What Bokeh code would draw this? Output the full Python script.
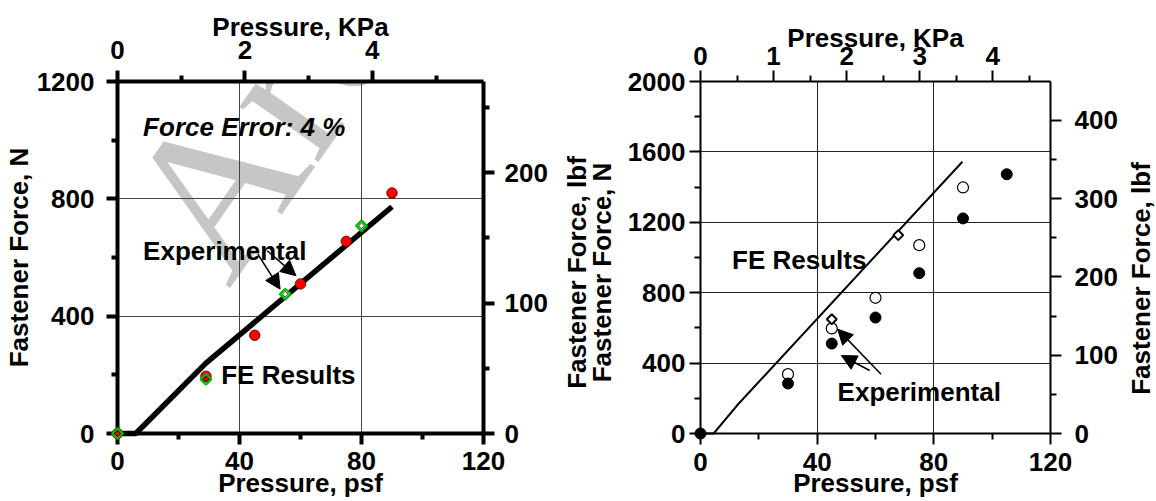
import math
from bokeh.plotting import figure
from bokeh.layouts import row, column
from bokeh.models import Range1d, LinearAxis, FixedTicker, Grid, Label, Arrow, NormalHead
from bokeh.embed import file_html
from bokeh.resources import INLINE

FONT = "Liberation Sans"
FS = "26px"

# ---------------- data: left chart (Force Error 4 %) ----------------
L_line_psf = [0, 6, 29, 90]
L_line_N = [0, 0, 240, 773]
L_fe_psf = [0, 29, 55, 80]
L_fe_N = [0, 185, 475, 708]
L_exp_psf = [0, 29, 45, 60, 75, 90]
L_exp_N = [0, 195, 335, 510, 655, 820]

# ---------------- data: right chart ----------------
R_line_psf = [0, 4.5, 12.5, 89.8]
R_line_N = [0, 0, 159, 1544]
R_fe_psf = [45, 67.8]
R_fe_N = [649, 1127]
R_expA_psf = [0, 30, 45, 60, 75, 90, 105]          # filled circles
R_expA_N = [0, 284, 511, 659, 911, 1222, 1473]
R_expB_psf = [30, 45, 60, 75, 90]                  # open circles
R_expB_N = [337, 597, 771, 1070, 1398]

# ---------------- ticks ----------------
psf_ticks = [0, 40, 80, 120]
psf_minor = [20, 60, 100]
L_kpa_ticks = [0, 2, 4]
L_kpa_minor = [1, 3, 5]
R_kpa_ticks = [0, 1, 2, 3, 4]
R_kpa_minor = [0.5, 1.5, 2.5, 3.5, 4.5]
L_N_ticks = [0, 400, 800, 1200]
L_N_minor = [200, 600, 1000]
R_N_ticks = [0, 400, 800, 1200, 1600, 2000]
R_N_minor = [200, 600, 1000, 1400, 1800]
L_lbf_ticks = [0, 100, 200]
L_lbf_minor = [50, 150, 250]
R_lbf_ticks = [0, 100, 200, 300, 400]
R_lbf_minor = [50, 150, 250, 350]
L_grid_x = [40, 80]
L_grid_y = [400, 800]
R_grid_x = [40, 80]
R_grid_y = [400, 800, 1200, 1600]

PSF_MAX = 120
L_N_MAX = 1200
R_N_MAX = 2000
N_PER_LBF = 4.448
KPA_PER_PSF = 0.04788
R_KPA_MAX = 4.79   # top scale of the right chart as drawn

H = 501
TOP = 81          # frame top (both charts)
FRAME_H = 352


def base_fig(width, bl, br, bt, bb, ymax, kpa_max):
    p = figure(width=width, height=H,
               x_range=Range1d(0, PSF_MAX), y_range=Range1d(0, ymax),
               x_axis_type=None, y_axis_type=None,
               output_backend="svg", toolbar_location=None,
               min_border_left=bl, min_border_right=br,
               min_border_top=bt, min_border_bottom=bb)
    p.outline_line_color = None
    p.background_fill_color = "white"
    p.border_fill_color = "white"
    p.extra_x_ranges = {"kpa": Range1d(0, kpa_max)}
    p.extra_y_ranges = {"lbf": Range1d(0, ymax / N_PER_LBF)}
    return p


def style_title(ax, title, standoff):
    ax.axis_label = title
    ax.axis_label_text_font = FONT
    ax.axis_label_text_font_style = "bold"
    ax.axis_label_text_font_size = FS
    ax.axis_label_text_color = "black"
    ax.axis_label_standoff = standoff


def add_axis(p, side, ticks, minor, lw, standoff, title=None, title_standoff=0, range_name=None):
    kw = {}
    if range_name:
        kw["x_range_name" if side in ("above", "below") else "y_range_name"] = range_name
    ax = LinearAxis(ticker=FixedTicker(ticks=ticks, minor_ticks=minor), **kw)
    ax.axis_line_width = lw
    ax.axis_line_color = "black"
    ax.major_tick_line_width = lw
    ax.minor_tick_line_width = lw
    ax.major_tick_line_color = "black"
    ax.minor_tick_line_color = "black"
    ax.major_tick_in = 0
    ax.major_tick_out = 11
    ax.minor_tick_in = 0
    ax.minor_tick_out = 6
    ax.major_label_text_font = FONT
    ax.major_label_text_font_style = "bold"
    ax.major_label_text_font_size = FS
    ax.major_label_text_color = "black"
    ax.major_label_standoff = standoff
    if title:
        style_title(ax, title, title_standoff)
    p.add_layout(ax, side)
    return ax


def title_only_fig(width, bl, bb, titles):
    """A narrow figure that only carries vertical axis titles (read bottom-to-top)."""
    p = figure(width=width, height=H, x_range=Range1d(0, 1), y_range=Range1d(0, 1),
               x_axis_type=None, y_axis_type=None,
               output_backend="svg", toolbar_location=None,
               min_border_left=bl, min_border_right=0,
               min_border_top=TOP, min_border_bottom=bb)
    p.outline_line_color = None
    p.background_fill_color = "white"
    p.border_fill_color = "white"
    for t, so in titles:
        ax = LinearAxis(ticker=FixedTicker(ticks=[], minor_ticks=[]))
        ax.axis_line_color = None
        ax.major_tick_out = 0
        ax.minor_tick_out = 0
        ax.major_tick_in = 0
        ax.minor_tick_in = 0
        ax.major_label_standoff = 0
        style_title(ax, t, so)
        p.add_layout(ax, "left")
    return p


def add_grid(p, xs, ys, color):
    gx = Grid(dimension=0, ticker=FixedTicker(ticks=xs), grid_line_color=color, grid_line_width=1)
    gy = Grid(dimension=1, ticker=FixedTicker(ticks=ys), grid_line_color=color, grid_line_width=1)
    p.add_layout(gx, "center")
    p.add_layout(gy, "center")


def text(p, x, y, s, italic=False):
    p.add_layout(Label(x=x, y=y, text=s, text_font=FONT,
                       text_font_style="bold italic" if italic else "bold",
                       text_font_size=FS, text_color="black",
                       text_align="left", text_baseline="alphabetic"))


def arrow(p, x0, y0, x1, y1):
    p.add_layout(Arrow(end=NormalHead(size=15, fill_color="black", line_color="black", line_width=1),
                       x_start=x0, y_start=y0, x_end=x1, y_end=y1,
                       line_color="black", line_width=1.5))


BOTTOM = H - TOP - FRAME_H   # 68

# ======================= left chart =======================
p1 = base_fig(552, 116, 69, TOP, BOTTOM, L_N_MAX, PSF_MAX * KPA_PER_PSF)

wm = Label(x=17.5, y=629, text="Archived", angle=math.radians(55),
           text_font="Liberation Serif", text_font_size="210px",
           text_color="#c6c6c6", text_align="left", text_baseline="alphabetic",
           level="image")
p1.add_layout(wm)

add_grid(p1, L_grid_x, L_grid_y, "#444444")
add_axis(p1, "below", psf_ticks, psf_minor, 4, 7, "Pressure, psf", -5)
add_axis(p1, "above", L_kpa_ticks, L_kpa_minor, 4, 12, "Pressure, KPa", -4, "kpa")
add_axis(p1, "left", L_N_ticks, L_N_minor, 4, 12, "Fastener Force, N", 0)
add_axis(p1, "right", L_lbf_ticks, L_lbf_minor, 4, 10, range_name="lbf")

p1.line(L_line_psf, L_line_N, line_width=5.5, line_color="black", line_cap="butt", level="overlay")
p1.scatter(L_fe_psf, L_fe_N, marker="square", angle=math.pi / 4, size=7.5,
           fill_color="white", line_color="#00c000", line_width=2, level="overlay")
p1.scatter(L_exp_psf, L_exp_N, marker="circle", size=10.5,
           fill_color="#ff0000", line_color="#400000", line_width=0.8, level="overlay")
p1.scatter(L_fe_psf, L_fe_N, marker="square", angle=math.pi / 4, size=7.5,
           fill_color=None, line_color="#00c000", line_width=2, level="overlay")
p1.scatter(L_fe_psf, L_fe_N, marker="square", angle=math.pi / 4, size=4,
           fill_color=None, line_color="black", line_width=0.8, level="overlay")

text(p1, 8.4, 1045, "Force Error: 4 %", italic=True)
text(p1, 8.4, 623, "Experimental")
text(p1, 34.0, 198, "FE Results")
arrow(p1, 46.0, 612, 53.3, 492)
arrow(p1, 49.1, 623, 58.5, 538)

# ============ middle titles (lbf of left chart, N of right chart) ============
pm = title_only_fig(66, 64, H - 463, [("Fastener Force, N", 0), ("Fastener Force, lbf", -8)])

# ======================= right chart =======================
p2 = base_fig(502, 82, 68, TOP, BOTTOM, R_N_MAX, R_KPA_MAX)

add_grid(p2, R_grid_x, R_grid_y, "#222222")
add_axis(p2, "below", psf_ticks, psf_minor, 2, 8, "Pressure, psf", -6)
add_axis(p2, "above", R_kpa_ticks, R_kpa_minor, 2, 6, "Pressure, KPa", -9, "kpa")
add_axis(p2, "left", R_N_ticks, R_N_minor, 2, 4)
add_axis(p2, "right", R_lbf_ticks, R_lbf_minor, 2, 13, range_name="lbf")

p2.line(R_line_psf, R_line_N, line_width=2, line_color="black", level="overlay")
p2.scatter(R_expB_psf, R_expB_N, marker="circle", size=11,
           fill_color="white", line_color="black", line_width=1.2, level="overlay")
p2.scatter(R_expA_psf, R_expA_N, marker="circle", size=11,
           fill_color="black", line_color="black", line_width=1, level="overlay")
p2.scatter(R_fe_psf, R_fe_N, marker="square", angle=math.pi / 4, size=7,
           fill_color="white", line_color="black", line_width=2, level="overlay")

text(p2, 10.8, 987, "FE Results")
text(p2, 47.0, 233, "Experimental")
arrow(p2, 61.9, 337, 47.0, 593)
arrow(p2, 58.0, 358, 48.3, 443)

# ============ far-right title (lbf of right chart) ============
pr = title_only_fig(36, 35, H - 475, [("Fastener Force, lbf", 0)])

layout = row(p1, column(pm), p2, column(pr))
open("out.html", "w").write(file_html(layout, INLINE))
